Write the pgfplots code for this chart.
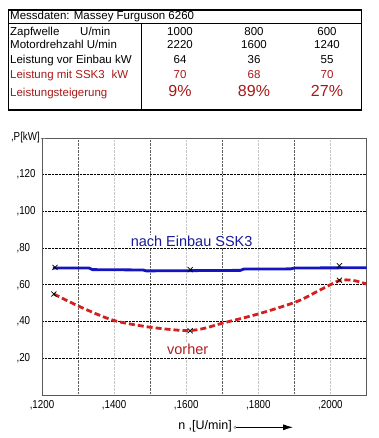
\documentclass[border=0pt]{standalone}
\usepackage{fontspec}
\setmainfont{Liberation Sans}
\newfontfamily\narrowfont[FakeStretch=0.85]{Liberation Sans}
\usepackage{pgfplots}
\pgfplotsset{compat=1.18}
\usetikzlibrary{arrows.meta}
\definecolor{tblred}{HTML}{A81818}
\definecolor{lineblue}{HTML}{1414C0}
\definecolor{txtblue}{HTML}{1A1A9A}
\definecolor{linered}{HTML}{D02020}
\definecolor{txtred}{HTML}{B02020}
\begin{document}
\begin{tikzpicture}[x=1pt,y=1pt]
\useasboundingbox (0,0) rectangle (379,438);
% ---------- table ----------
\draw[line width=1.3pt] (8.3,428) rectangle (361.7,328);
\draw[line width=1pt] (8.3,414) -- (361.7,414);
\draw[line width=1pt] (141.7,414) -- (141.7,328);
\begin{scope}[every node/.style={inner sep=0pt, font=\fontsize{11.5}{13}\selectfont}]
\node[anchor=base west] at (10,418) {Messdaten: Massey Furguson 6260};
\node[anchor=base west] at (10,402.5) {Zapfwelle};
\node[anchor=base west] at (80,402.5) {U/min};
\node[anchor=base west] at (10,389) {Motordrehzahl U/min};
\node[anchor=base west] at (10,374) {Leistung vor Einbau kW};
\node[anchor=base west, text=tblred] at (10,359.7) {Leistung mit SSK3\hspace{0.6em}kW};
\node[anchor=base west, text=tblred] at (10,341) {Leistungsteigerung};
\node[anchor=base] at (180,402.5) {1000};
\node[anchor=base] at (254,402.5) {800};
\node[anchor=base] at (327,402.5) {600};
\node[anchor=base] at (180,389) {2220};
\node[anchor=base] at (254,389) {1600};
\node[anchor=base] at (327,389) {1240};
\node[anchor=base] at (180,374) {64};
\node[anchor=base] at (254,374) {36};
\node[anchor=base] at (327,374) {55};
\node[anchor=base, text=tblred] at (180,359.7) {70};
\node[anchor=base, text=tblred] at (254,359.7) {68};
\node[anchor=base, text=tblred] at (327,359.7) {70};
\node[anchor=base, text=tblred, font=\fontsize{16}{18}\selectfont] at (180,341) {9\%};
\node[anchor=base, text=tblred, font=\fontsize{16}{18}\selectfont] at (254,341) {89\%};
\node[anchor=base, text=tblred, font=\fontsize{16}{18}\selectfont] at (327,341) {27\%};
\end{scope}
% ---------- chart ----------
\begin{axis}[
  at={(42pt,43pt)}, anchor=south west,
  scale only axis, width=324.5pt, height=257pt,
  xmin=1200, xmax=2100, ymin=0, ymax=140,
  xtick={1200,1400,1600,1800,2000},
  xticklabels={{,1200},{,1400},{,1600},{,1800},{,2000}},
  minor xtick={1300,1500,1700,1900},
  ytick={20,40,60,80,100,120},
  yticklabels={{,20},{,40},{,60},{,80},{,100},{,120}},
  major tick length=0pt, minor tick length=0pt,
  xmajorgrids, xminorgrids, ymajorgrids,
  major x grid style={gray!45, densely dotted, line width=0.6pt},
  minor x grid style={gray!75!black, densely dotted, line width=0.6pt},
  major y grid style={black, densely dotted, line width=0.8pt},
  axis line style={draw=gray!70!black, line width=0.7pt},
  tick label style={font=\narrowfont\fontsize{11.5}{12}\selectfont},
  /pgf/number format/assume math mode=true,
  xticklabel style={yshift=-2pt},
  yticklabel style={anchor=west, xshift=-29pt},
]
\addplot[lineblue, line width=2.8pt] coordinates {
  (1230,69.2) (1330,69.2) (1340,68.3) (1480,68.1) (1490,67.6)
  (1750,67.9) (1760,68.6) (1890,68.7) (1900,69.2) (2100,69.3)};
\addplot[linered, line width=2.8pt, dash pattern=on 6pt off 3pt, smooth] coordinates {
  (1233,55) (1305,48.1) (1396,40.8) (1490,37.2) (1572,35.4) (1611,35.1)
  (1650,36.3) (1702,39.2) (1799,44.1) (1907,50.9) (1971,57.2)
  (2025,62.3) (2063,62.4) (2100,60.5)};
\addplot[only marks, mark=x, mark size=3.6pt, black, mark options={line width=0.7pt}] coordinates {
  (1236,69.5) (1611,68.3) (2025,70.4)};
\addplot[only marks, mark=x, mark size=3.6pt, black, mark options={line width=0.7pt}] coordinates {
  (1233,55) (1611,35) (2025,62.5)};
\node[anchor=base, text=txtblue, fill=white, inner sep=1.2pt,
  font=\fontsize{14.5}{16}\selectfont] at (axis cs:1615,80.8) {nach Einbau SSK3};
\node[anchor=base, text=txtred, fill=white, inner sep=1.2pt,
  font=\fontsize{14.5}{16}\selectfont] at (axis cs:1604,21.8) {vorher};
\end{axis}
% y axis title at the top
\node[anchor=east, inner sep=0pt, font=\narrowfont\fontsize{11.5}{12}\selectfont] at (40,300) {,P[kW]};
\draw[gray, line width=0.6pt, densely dotted] (41,300) -- (45,300);
% x label with arrow
\node[anchor=base east, inner sep=0pt, font=\fontsize{12.5}{14}\selectfont] at (232,8.3) {n ,[U/min]};
\draw[gray, line width=0.5pt] (235,10.7) circle (1.2pt);
\draw[-{Latex[length=10pt,width=6pt]}, line width=0.8pt] (236.2,10.7) -- (293,10.7);
\end{tikzpicture}
\end{document}
